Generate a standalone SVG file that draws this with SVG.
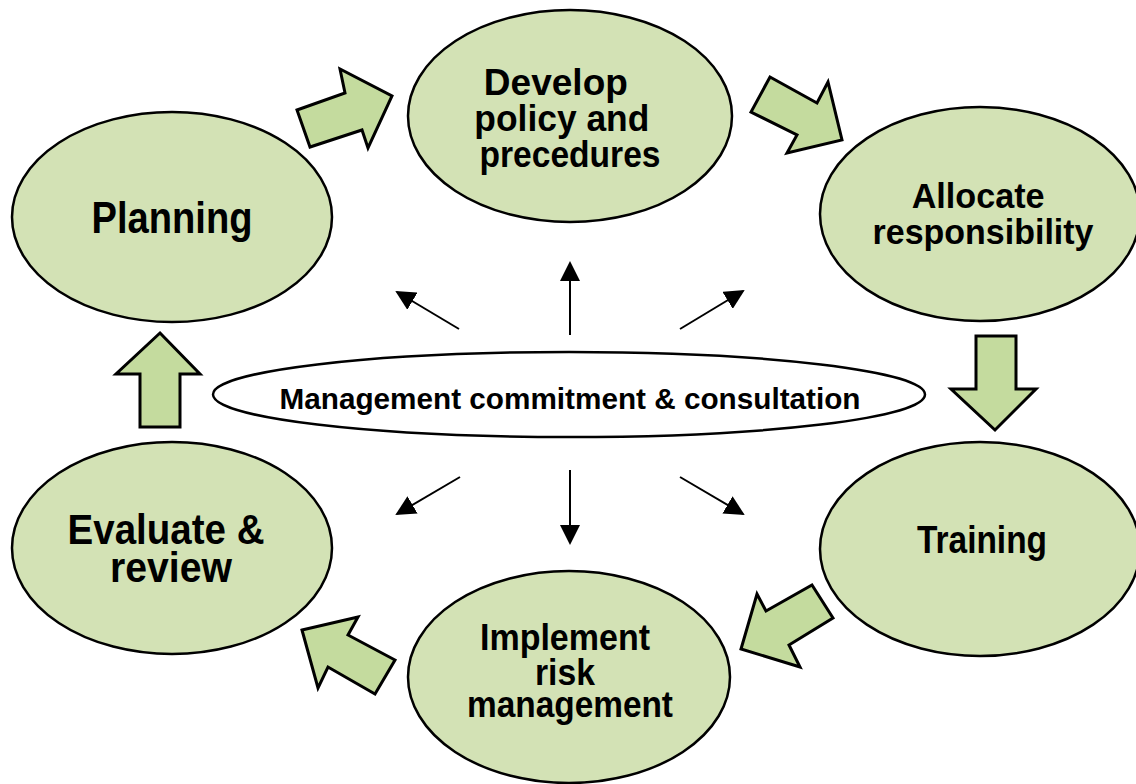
<svg xmlns="http://www.w3.org/2000/svg" width="1136" height="784" viewBox="0 0 1136 784">
  <style>
    .node { fill: #d3e2b5; stroke: #000; stroke-width: 2.5; }
    .hub { fill: #fff; stroke: #000; stroke-width: 2.5; }
    .block { fill: #c4db9e; stroke: #000; stroke-width: 3; stroke-linejoin: miter; }
    .ray { stroke: #000; stroke-width: 2; fill: none; marker-end: url(#tip); }
    text { font-family: "Liberation Sans", Arial, sans-serif; font-weight: bold; fill: #000; text-anchor: middle; }
  </style>
  <defs>
    <marker id="tip" markerUnits="userSpaceOnUse" markerWidth="20" markerHeight="20" viewBox="0 0 20 20" refX="18" refY="10" orient="auto">
      <path d="M0,0 L20,10 L0,20 Z" fill="#000"/>
    </marker>
  </defs>

  <!-- cycle nodes -->
  <g id="planning">
    <ellipse class="node" cx="172" cy="217" rx="160" ry="105"/>
    <text x="172" y="233" font-size="44" textLength="161" lengthAdjust="spacingAndGlyphs">Planning</text>
  </g>
  <g id="develop">
    <ellipse class="node" cx="570" cy="116" rx="162" ry="106"/>
    <text font-size="37" lengthAdjust="spacingAndGlyphs">
      <tspan x="561" y="95" textLength="144" lengthAdjust="spacingAndGlyphs">Develop</tspan>
      <tspan x="567" y="131" textLength="175" lengthAdjust="spacingAndGlyphs">policy and</tspan>
      <tspan x="570" y="167" textLength="181" lengthAdjust="spacingAndGlyphs">precedures</tspan>
    </text>
  </g>
  <g id="allocate">
    <ellipse class="node" cx="980" cy="214" rx="160" ry="107"/>
    <text font-size="35">
      <tspan x="983" y="208" textLength="133" lengthAdjust="spacingAndGlyphs">Allocate</tspan>
      <tspan x="983" y="244" textLength="221" lengthAdjust="spacingAndGlyphs">responsibility</tspan>
    </text>
  </g>
  <g id="training">
    <ellipse class="node" cx="980" cy="549" rx="160" ry="107"/>
    <text x="982" y="553" font-size="39" textLength="130" lengthAdjust="spacingAndGlyphs">Training</text>
  </g>
  <g id="implement">
    <ellipse class="node" cx="569" cy="677" rx="161" ry="106"/>
    <text font-size="36">
      <tspan x="570" y="650" textLength="170" lengthAdjust="spacingAndGlyphs">Implement</tspan>
      <tspan x="570" y="685" textLength="60" lengthAdjust="spacingAndGlyphs">risk</tspan>
      <tspan x="570" y="717" textLength="206" lengthAdjust="spacingAndGlyphs">management</tspan>
    </text>
  </g>
  <g id="evaluate">
    <ellipse class="node" cx="172" cy="548" rx="160" ry="106"/>
    <text font-size="43">
      <tspan x="172" y="544" textLength="197" lengthAdjust="spacingAndGlyphs">Evaluate &amp;</tspan>
      <tspan x="171" y="582" textLength="122" lengthAdjust="spacingAndGlyphs">review</tspan>
    </text>
  </g>

  <!-- central hub -->
  <g id="commitment">
    <ellipse class="hub" cx="569" cy="394.5" rx="356" ry="42.5"/>
    <text x="570" y="409" font-size="30" textLength="581" lengthAdjust="spacingAndGlyphs">Management commitment &amp; consultation</text>
  </g>

  <!-- connectors -->
  <g id="connectors">
    <!-- block arrows around the cycle -->
    <polygon class="block" points="297,110 345,93 340,69 392,96 368,148 362,130 310,147"/>
    <polygon class="block" points="770,77 817,103 828,82 842,140 787,153 797,135 751,112"/>
    <polygon class="block" points="976,336 1016,336 1016,389 1036,389 995,430 951,389 976,389"/>
    <polygon class="block" points="812,585 833,618 789,645 800,667 741,649 757,594 766,611"/>
    <polygon class="block" points="302,630 358,617 348,635 395,660 375,694 328,667 318,688"/>
    <polygon class="block" points="160,333 200,374 180,374 180,427 140,427 140,374 116,374"/>
    <!-- rays from the hub -->
    <line class="ray" x1="459" y1="329" x2="397" y2="292"/>
    <line class="ray" x1="570" y1="335" x2="570" y2="263"/>
    <line class="ray" x1="680" y1="329" x2="743" y2="291"/>
    <line class="ray" x1="460" y1="477" x2="397" y2="514"/>
    <line class="ray" x1="570" y1="470" x2="570" y2="543"/>
    <line class="ray" x1="680" y1="477" x2="743" y2="514"/>
  </g>
</svg>
